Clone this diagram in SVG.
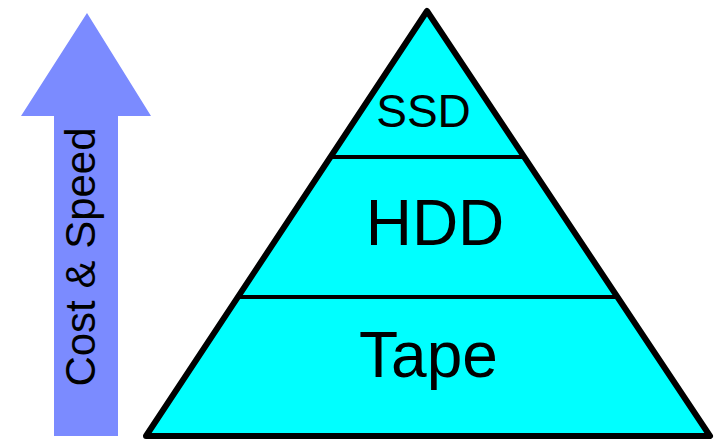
<svg xmlns="http://www.w3.org/2000/svg" width="715" height="440" viewBox="0 0 715 440">
  <style>
    .tier { fill: #00FFFF; stroke: #000; stroke-width: 6; stroke-linejoin: round; }
    .divider { stroke: #000; stroke-width: 4; }
    .label { font-family: "Liberation Sans", Arial, sans-serif; fill: #000; text-anchor: middle; }
    .arrow { fill: #7B8BFF; }
  </style>
  <rect width="715" height="440" fill="#fff"/>

  <!-- Cost & Speed arrow -->
  <g id="cost-speed-arrow">
    <path class="arrow" d="M87 13 L151 116 L118 116 L118 436 L54 436 L54 116 L21 116 Z"/>
    <text class="label" font-size="42" transform="translate(95 257) rotate(-90)">Cost &amp; Speed</text>
  </g>

  <!-- Storage pyramid -->
  <g id="pyramid">
    <path class="tier" d="M427 11 L710 436 L146 436 Z"/>
  </g>
  <g id="connectors">
    <line class="divider" x1="329" y1="157" x2="523" y2="157"/>
    <line class="divider" x1="240" y1="297" x2="615" y2="297"/>
  </g>
  <g id="ssd">
    <text class="label" x="423.5" y="127" font-size="46">SSD</text>
  </g>
  <g id="hdd">
    <text class="label" x="435" y="245" font-size="64">HDD</text>
  </g>
  <g id="tape">
    <text class="label" x="428.5" y="377" font-size="64">Tape</text>
  </g>
</svg>
